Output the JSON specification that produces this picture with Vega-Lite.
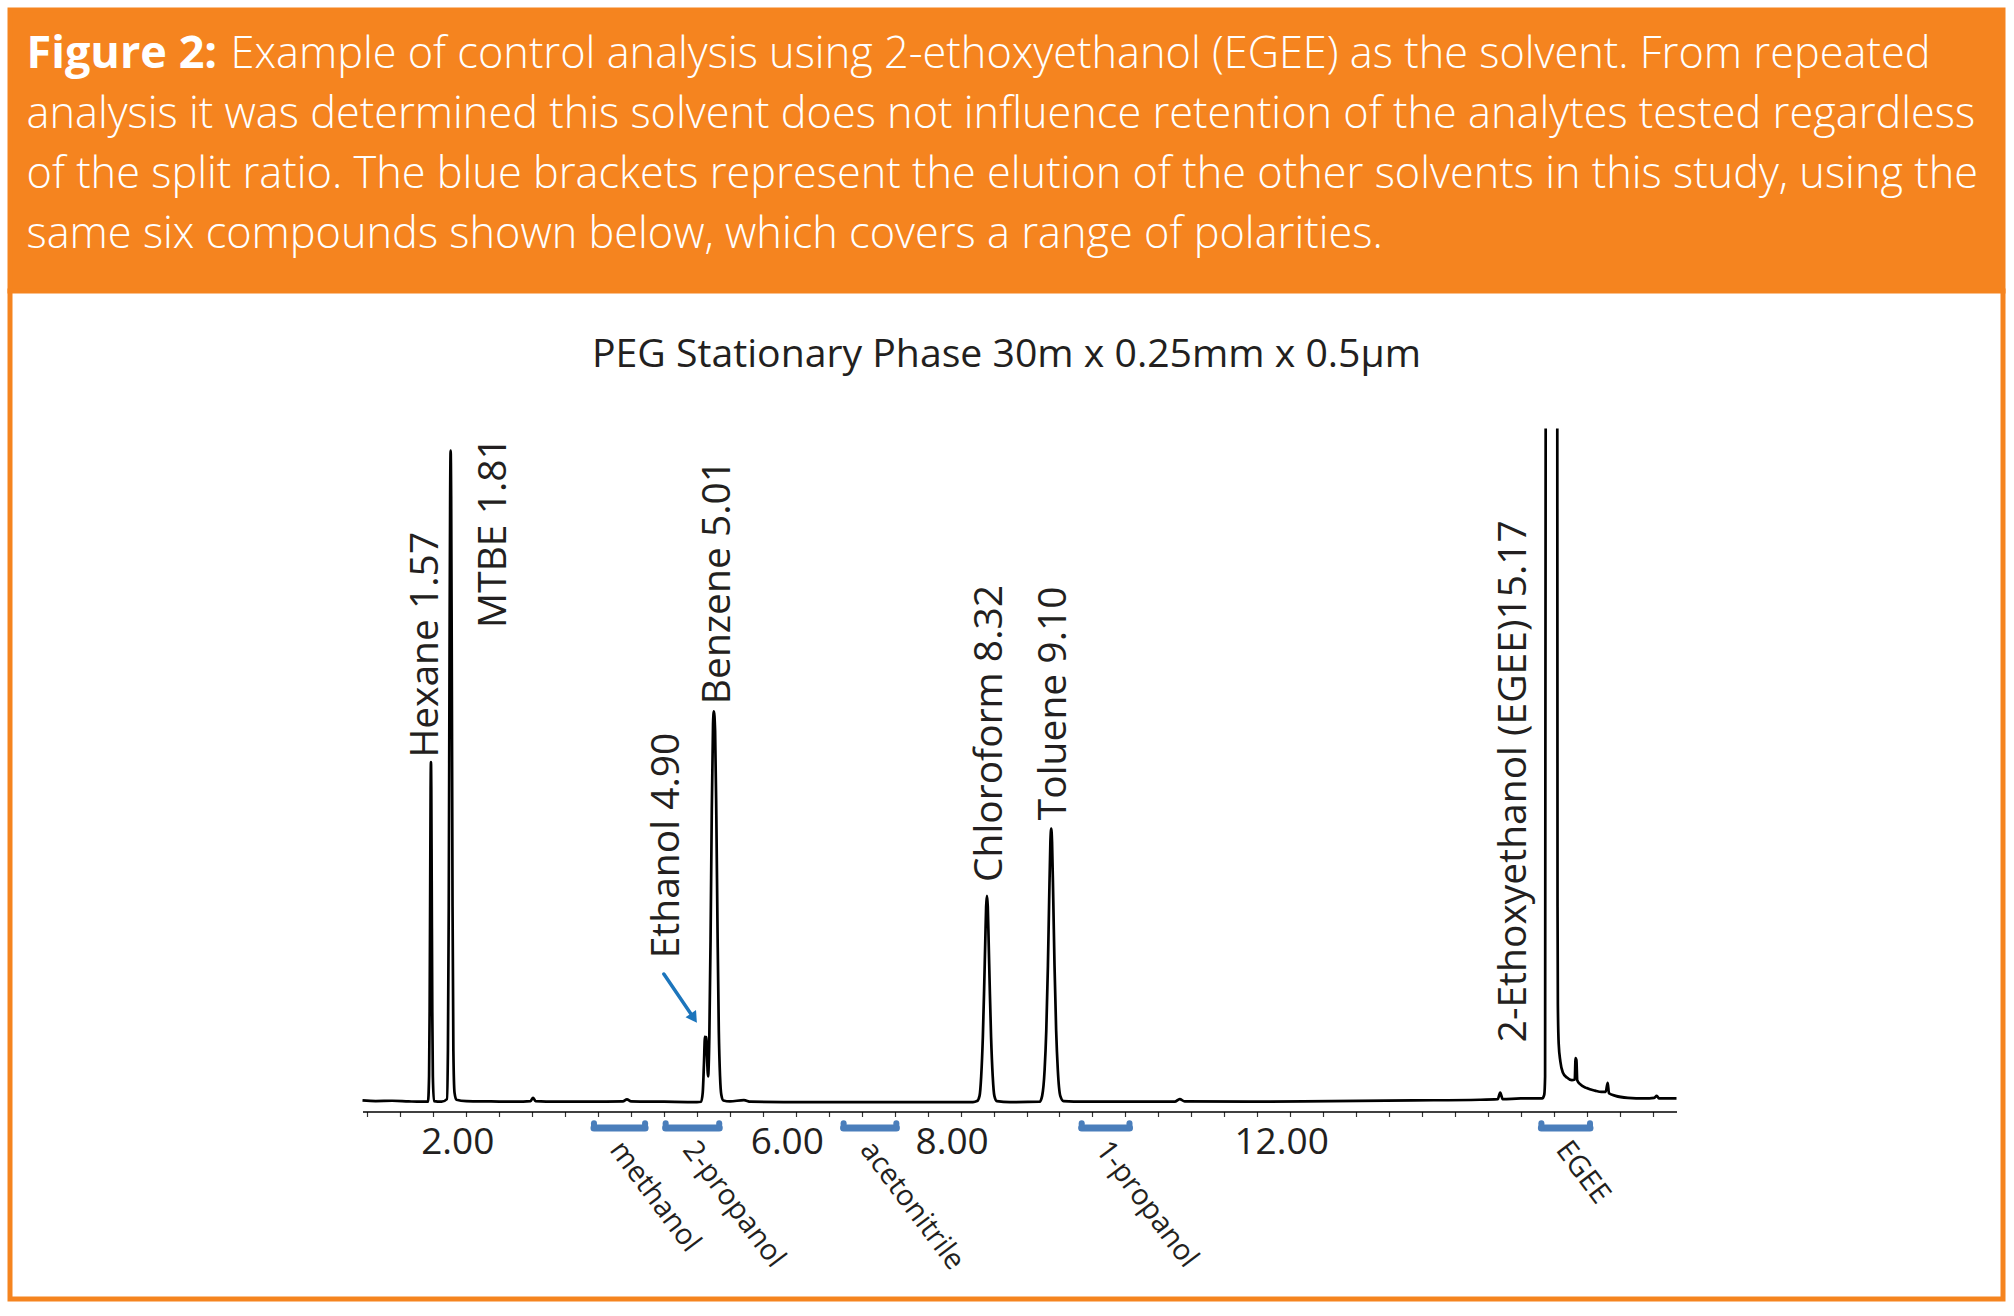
{
  "$schema": "https://vega.github.io/schema/vega-lite/v6.json",
  "background": "white",
  "padding": {"left": 7, "top": 7, "right": 9, "bottom": 15},
  "bounds": "flush",
  "spacing": 0,
  "config": {"view": {"stroke": null}},
  "datasets": {
    "brackets": [
      {"solvent": "methanol", "start": 3.55, "end": 4.17, "mid": 3.86},
      {"solvent": "2-propanol", "start": 4.42, "end": 5.07, "mid": 4.745},
      {"solvent": "acetonitrile", "start": 6.58, "end": 7.22, "mid": 6.9},
      {"solvent": "1-propanol", "start": 9.47, "end": 10.05, "mid": 9.76},
      {"solvent": "EGEE", "start": 15.05, "end": 15.64, "mid": 15.345}
    ]
  },
  "vconcat": [
    {
      "width": 1993,
      "height": 281,
      "view": {"fill": "#F5841F", "stroke": "#F5841F", "strokeWidth": 5},
      "layer": [
        {
          "data": {"values": [{"line": 1, "col": "a", "text": "Figure 2:"}]},
          "mark": {"type": "text", "font": "Open Sans", "fontSize": 45, "fontWeight": "bold", "color": "white", "align": "left", "baseline": "alphabetic"},
          "encoding": {
            "x": {"field": "col", "type": "nominal", "scale": {"type": "point", "domain": ["a", "b"], "range": [16.5, 220.5], "padding": 0}, "axis": null},
            "y": {"field": "line", "type": "ordinal", "scale": {"type": "point", "domain": [1, 2, 3, 4], "range": [57.5, 237.5], "padding": 0}, "axis": null},
            "text": {"field": "text"}
          }
        },
        {
          "data": {"values": [
            {"line": 1, "col": "b", "text": "Example of control analysis using 2-ethoxyethanol (EGEE) as the solvent. From repeated"},
            {"line": 2, "col": "a", "text": "analysis it was determined this solvent does not influence retention of the analytes tested regardless"},
            {"line": 3, "col": "a", "text": "of the split ratio. The blue brackets represent the elution of the other solvents in this study, using the"},
            {"line": 4, "col": "a", "text": "same six compounds shown below, which covers a range of polarities."}
          ]},
          "mark": {"type": "text", "font": "Open Sans", "fontSize": 43.3, "fontWeight": 300, "color": "white", "align": "left", "baseline": "alphabetic"},
          "encoding": {
            "x": {"field": "col", "type": "nominal", "axis": null},
            "y": {"field": "line", "type": "ordinal", "axis": null},
            "text": {"field": "text"}
          }
        }
      ]
    },
    {
      "width": 1993,
      "height": 1008,
      "view": {"fill": "white", "stroke": "#F5841F", "strokeWidth": 5},
      "title": {"text": "PEG Stationary Phase 30m x 0.25mm x 0.5µm", "anchor": "middle", "frame": "group", "offset": -84, "font": "Open Sans", "fontSize": 39.2, "fontWeight": "normal", "color": "#231F20"},
      "layer": [
        {
          "data": {"values": [
            {"t": 0.74, "v": 0.3, "s": "A"}, {"t": 0.9, "v": 0.2, "s": "A"}, {"t": 1.1, "v": 0.25, "s": "A"}, {"t": 1.3, "v": 0.15, "s": "A"}, {"t": 1.45, "v": 0.1, "s": "A"},
            {"t": 1.535, "v": 0.1, "s": "A"}, {"t": 1.548, "v": 4, "s": "A"}, {"t": 1.555, "v": 14, "s": "A"}, {"t": 1.562, "v": 34, "s": "A"}, {"t": 1.567, "v": 48, "s": "A"}, {"t": 1.571, "v": 52.2, "s": "A"}, {"t": 1.575, "v": 48, "s": "A"}, {"t": 1.58, "v": 34, "s": "A"}, {"t": 1.587, "v": 14, "s": "A"}, {"t": 1.594, "v": 4, "s": "A"}, {"t": 1.607, "v": 0.2, "s": "A"},
            {"t": 1.7, "v": 0.1, "s": "A"}, {"t": 1.765, "v": 0.5, "s": "A"}, {"t": 1.777, "v": 8, "s": "A"}, {"t": 1.787, "v": 30, "s": "A"}, {"t": 1.797, "v": 70, "s": "A"}, {"t": 1.804, "v": 93, "s": "A"}, {"t": 1.81, "v": 100, "s": "A"}, {"t": 1.816, "v": 93, "s": "A"}, {"t": 1.823, "v": 70, "s": "A"}, {"t": 1.833, "v": 30, "s": "A"}, {"t": 1.843, "v": 8, "s": "A"}, {"t": 1.857, "v": 1.5, "s": "A"}, {"t": 1.88, "v": 0.4, "s": "A"},
            {"t": 2.0, "v": 0.2, "s": "A"}, {"t": 2.3, "v": 0.15, "s": "A"}, {"t": 2.6, "v": 0.1, "s": "A"}, {"t": 2.78, "v": 0.2, "s": "A"}, {"t": 2.81, "v": 0.7, "s": "A"}, {"t": 2.84, "v": 0.2, "s": "A"}, {"t": 3.1, "v": 0.1, "s": "A"}, {"t": 3.5, "v": 0.1, "s": "A"}, {"t": 3.9, "v": 0.15, "s": "A"}, {"t": 3.95, "v": 0.45, "s": "A"}, {"t": 4.0, "v": 0.15, "s": "A"}, {"t": 4.4, "v": 0.1, "s": "A"}, {"t": 4.8, "v": 0.05, "s": "A"},
            {"t": 4.85, "v": 0.1, "s": "A"}, {"t": 4.87, "v": 1.5, "s": "A"}, {"t": 4.885, "v": 6, "s": "A"}, {"t": 4.897, "v": 10.1, "s": "A"}, {"t": 4.905, "v": 8.5, "s": "A"}, {"t": 4.913, "v": 10, "s": "A"}, {"t": 4.922, "v": 7, "s": "A"}, {"t": 4.935, "v": 4.0, "s": "A"}, {"t": 4.95, "v": 10, "s": "A"}, {"t": 4.965, "v": 25, "s": "A"}, {"t": 4.98, "v": 45, "s": "A"}, {"t": 4.995, "v": 58, "s": "A"}, {"t": 5.005, "v": 60, "s": "A"}, {"t": 5.02, "v": 57, "s": "A"}, {"t": 5.035, "v": 44, "s": "A"}, {"t": 5.05, "v": 26, "s": "A"}, {"t": 5.065, "v": 11, "s": "A"}, {"t": 5.08, "v": 4, "s": "A"}, {"t": 5.095, "v": 1.2, "s": "A"}, {"t": 5.12, "v": 0.3, "s": "A"},
            {"t": 5.2, "v": 0.15, "s": "A"}, {"t": 5.37, "v": 0.35, "s": "A"}, {"t": 5.45, "v": 0.1, "s": "A"}, {"t": 6.0, "v": 0.05, "s": "A"}, {"t": 7.0, "v": 0.05, "s": "A"}, {"t": 8.15, "v": 0.05, "s": "A"},
            {"t": 8.2, "v": 0.2, "s": "A"}, {"t": 8.23, "v": 1, "s": "A"}, {"t": 8.25, "v": 4, "s": "A"}, {"t": 8.27, "v": 10, "s": "A"}, {"t": 8.285, "v": 17, "s": "A"}, {"t": 8.3, "v": 25, "s": "A"}, {"t": 8.31, "v": 30, "s": "A"}, {"t": 8.32, "v": 31.7, "s": "A"}, {"t": 8.33, "v": 30, "s": "A"}, {"t": 8.34, "v": 25, "s": "A"}, {"t": 8.355, "v": 17, "s": "A"}, {"t": 8.37, "v": 10, "s": "A"}, {"t": 8.39, "v": 4, "s": "A"}, {"t": 8.41, "v": 1, "s": "A"}, {"t": 8.44, "v": 0.2, "s": "A"},
            {"t": 8.6, "v": 0.05, "s": "A"}, {"t": 8.96, "v": 0.1, "s": "A"}, {"t": 8.99, "v": 1, "s": "A"}, {"t": 9.02, "v": 5, "s": "A"}, {"t": 9.04, "v": 11, "s": "A"}, {"t": 9.06, "v": 21, "s": "A"}, {"t": 9.075, "v": 31, "s": "A"}, {"t": 9.09, "v": 40, "s": "A"}, {"t": 9.1, "v": 42, "s": "A"}, {"t": 9.11, "v": 40, "s": "A"}, {"t": 9.125, "v": 31, "s": "A"}, {"t": 9.14, "v": 21, "s": "A"}, {"t": 9.16, "v": 11, "s": "A"}, {"t": 9.18, "v": 5, "s": "A"}, {"t": 9.21, "v": 1, "s": "A"}, {"t": 9.25, "v": 0.2, "s": "A"},
            {"t": 9.5, "v": 0.1, "s": "A"}, {"t": 10.0, "v": 0.1, "s": "A"}, {"t": 10.6, "v": 0.1, "s": "A"}, {"t": 10.66, "v": 0.5, "s": "A"}, {"t": 10.72, "v": 0.15, "s": "A"}, {"t": 11.5, "v": 0.1, "s": "A"}, {"t": 12.5, "v": 0.2, "s": "A"}, {"t": 13.5, "v": 0.3, "s": "A"}, {"t": 14.3, "v": 0.4, "s": "A"}, {"t": 14.52, "v": 0.5, "s": "A"}, {"t": 14.55, "v": 1.5, "s": "A"}, {"t": 14.58, "v": 0.5, "s": "A"}, {"t": 14.8, "v": 0.6, "s": "A"}, {"t": 15.0, "v": 0.6, "s": "A"}, {"t": 15.06, "v": 0.6, "s": "A"}, {"t": 15.085, "v": 1.2, "s": "A"}, {"t": 15.095, "v": 4, "s": "A"}, {"t": 15.102, "v": 103.4, "s": "A"},
            {"t": 15.243, "v": 103.4, "s": "B"}, {"t": 15.246, "v": 30, "s": "B"}, {"t": 15.25, "v": 15, "s": "B"}, {"t": 15.26, "v": 9, "s": "B"}, {"t": 15.28, "v": 6.3, "s": "B"}, {"t": 15.31, "v": 4.6, "s": "B"}, {"t": 15.36, "v": 3.8, "s": "B"}, {"t": 15.42, "v": 3.4, "s": "B"}, {"t": 15.455, "v": 3.5, "s": "B"}, {"t": 15.465, "v": 6.8, "s": "B"}, {"t": 15.475, "v": 6.5, "s": "B"}, {"t": 15.485, "v": 3.4, "s": "B"}, {"t": 15.52, "v": 2.8, "s": "B"}, {"t": 15.6, "v": 2.2, "s": "B"}, {"t": 15.7, "v": 1.8, "s": "B"}, {"t": 15.78, "v": 1.6, "s": "B"}, {"t": 15.83, "v": 1.6, "s": "B"}, {"t": 15.855, "v": 3.0, "s": "B"}, {"t": 15.87, "v": 1.4, "s": "B"}, {"t": 15.95, "v": 1.0, "s": "B"}, {"t": 16.1, "v": 0.7, "s": "B"}, {"t": 16.3, "v": 0.6, "s": "B"}, {"t": 16.42, "v": 0.7, "s": "B"}, {"t": 16.45, "v": 1.0, "s": "B"}, {"t": 16.48, "v": 0.6, "s": "B"}, {"t": 16.69, "v": 0.6, "s": "B"}
          ]},
          "mark": {"type": "line", "color": "black", "strokeWidth": 2.7, "interpolate": "monotone", "strokeJoin": "round"},
          "encoding": {
            "x": {
              "field": "t", "type": "quantitative", "title": null,
              "scale": {"domain": [0.74, 16.69], "range": [352.5, 1666.5], "nice": false, "zero": false},
              "axis": {
                "values": [0.8, 1.2, 1.6, 2, 2.4, 2.8, 3.2, 3.6, 4, 4.4, 4.8, 5.2, 5.6, 6, 6.4, 6.8, 7.2, 7.6, 8, 8.4, 8.8, 9.2, 9.6, 10, 10.4, 10.8, 11.2, 11.6, 12, 12.4, 12.8, 13.2, 13.6, 14, 14.4, 14.8, 15.2, 15.6, 16, 16.4],
                "labelExpr": "indexof([2, 6, 8, 12], datum.value) >= 0 ? format(datum.value, '.2f') : ''",
                "offset": -187.5,
                "domain": true, "ticks": true, "labels": true,
                "domainColor": "black", "domainWidth": 1.6,
                "tickColor": "#333333", "tickWidth": 1.2, "tickSize": 5,
                "labelFont": "Open Sans", "labelFontSize": 37, "labelColor": "#231F20",
                "labelPadding": 8, "labelOffset": -9, "labelOverlap": false, "labelBound": false, "labelFlush": false,
                "grid": false, "title": null
              }
            },
            "y": {"field": "v", "type": "quantitative", "scale": {"domain": [-1.4, 103.4], "range": [820.5, 137.5], "nice": false, "zero": false}, "axis": null},
            "detail": {"field": "s"}
          }
        },
        {
          "data": {"values": [
            {"label": "Hexane 1.57", "lx": 1.652, "ly": 52.9},
            {"label": "MTBE 1.81", "lx": 2.477, "ly": 72.8},
            {"label": "Ethanol 4.90", "lx": 4.576, "ly": 22.1},
            {"label": "Benzene 5.01", "lx": 5.199, "ly": 61.1},
            {"label": "Chloroform 8.32", "lx": 8.505, "ly": 33.8},
            {"label": "Toluene 9.10", "lx": 9.282, "ly": 43.3},
            {"label": "2-Ethoxyethanol (EGEE)15.17", "lx": 14.862, "ly": 9.2}
          ]},
          "mark": {"type": "text", "angle": 270, "align": "left", "baseline": "alphabetic", "font": "Open Sans", "fontSize": 39, "color": "#231F20"},
          "encoding": {
            "x": {"field": "lx", "type": "quantitative", "title": null},
            "y": {"field": "ly", "type": "quantitative", "axis": null},
            "text": {"field": "label"}
          }
        },
        {
          "data": {"name": "brackets"},
          "mark": {"type": "rule", "color": "#4A7EBB", "strokeWidth": 7, "strokeCap": "round"},
          "encoding": {
            "x": {"field": "start", "type": "quantitative", "title": null},
            "x2": {"field": "end"},
            "y": {"datum": -3.95, "type": "quantitative", "axis": null}
          }
        },
        {
          "data": {"name": "brackets"},
          "mark": {"type": "rule", "color": "#4A7EBB", "strokeWidth": 6, "strokeCap": "round"},
          "encoding": {
            "x": {"field": "start", "type": "quantitative", "title": null},
            "y": {"datum": -3.2, "type": "quantitative", "axis": null},
            "y2": {"datum": -3.95}
          }
        },
        {
          "data": {"name": "brackets"},
          "mark": {"type": "rule", "color": "#4A7EBB", "strokeWidth": 6, "strokeCap": "round"},
          "encoding": {
            "x": {"field": "end", "type": "quantitative", "title": null},
            "y": {"datum": -3.2, "type": "quantitative", "axis": null},
            "y2": {"datum": -3.95}
          }
        },
        {
          "data": {"name": "brackets"},
          "mark": {"type": "text", "angle": 53, "align": "left", "baseline": "middle", "font": "Open Sans", "fontSize": 29, "color": "#231F20", "dx": -2, "dy": 3},
          "encoding": {
            "x": {"field": "mid", "type": "quantitative", "title": null},
            "y": {"datum": -6.46, "type": "quantitative", "axis": null},
            "text": {"field": "solvent"}
          }
        },
        {
          "data": {"values": [{"x1": 4.398, "y1": 19.69, "x2": 4.762, "y2": 12.92}]},
          "mark": {"type": "rule", "color": "#1C75BC", "strokeWidth": 3.5, "strokeCap": "round"},
          "encoding": {
            "x": {"field": "x1", "type": "quantitative", "title": null},
            "x2": {"field": "x2"},
            "y": {"field": "y1", "type": "quantitative", "axis": null},
            "y2": {"field": "y2"}
          }
        },
        {
          "data": {"values": [{"x2": 4.762, "y2": 12.92}]},
          "mark": {"type": "point", "shape": "triangle-up", "filled": true, "size": 160, "angle": 146, "color": "#1C75BC", "opacity": 1},
          "encoding": {
            "x": {"field": "x2", "type": "quantitative", "title": null},
            "y": {"field": "y2", "type": "quantitative", "axis": null}
          }
        }
      ]
    }
  ]
}
